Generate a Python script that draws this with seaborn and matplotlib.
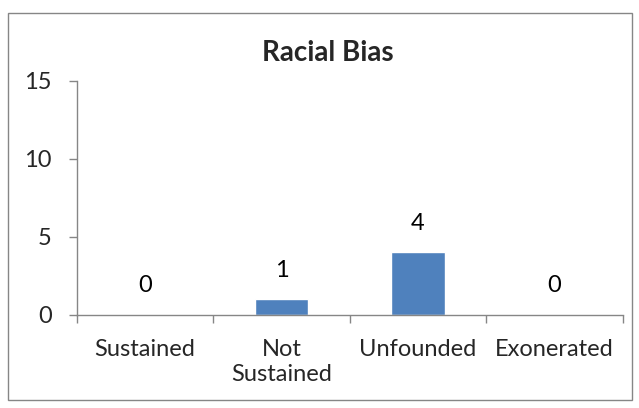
import matplotlib
matplotlib.use("Agg")
import matplotlib.pyplot as plt
import seaborn as sns
import pandas as pd
from matplotlib.patches import Rectangle

# Chart data
categories = ["Sustained", "Not\nSustained", "Unfounded", "Exonerated"]
counts = [0, 1, 4, 0]
y_ticks = [0, 5, 10, 15]

df = pd.DataFrame({"Finding": categories, "Count": counts})

sns.set_style("white")
plt.rcParams["font.family"] = ["Lato", "DejaVu Sans"]

fig = plt.figure(figsize=(6.39, 4.08), dpi=100)
ax = fig.add_axes([76.7 / 639, (408 - 314.5) / 408, (622.7 - 76.7) / 639, (314.5 - 80.5) / 408])

sns.barplot(data=df, x="Finding", y="Count", color="#4F81BD", width=0.39,
            saturation=1, ax=ax)

# value labels above bars
ax.bar_label(ax.containers[0], labels=[str(v) for v in counts],
             padding=13, fontsize=17, color="black")

ax.set_ylim(0, 15)
ax.set_xlim(-0.5, len(categories) - 0.5)
ax.set_yticks(y_ticks)
ax.set_xlabel("")
ax.set_ylabel("")

# title is centred over the whole chart frame
fig.text(328 / 639, 1 - 53 / 408, "Racial Bias", fontsize=20, fontweight="bold",
         ha="center", va="center")

# axis styling
for side in ["top", "right"]:
    ax.spines[side].set_visible(False)
for side in ["left", "bottom"]:
    ax.spines[side].set_color("#868686")
    ax.spines[side].set_linewidth(1)

ax.tick_params(axis="y", which="major", direction="out", length=6, width=1,
               color="#868686", left=True, labelsize=17, pad=12)
ax.tick_params(axis="x", which="major", length=0, labelsize=17, pad=18)
for lbl in ax.get_xticklabels():
    lbl.set_linespacing(1.2)
ax.set_xticks([i - 0.5 for i in range(len(categories) + 1)], minor=True)
ax.tick_params(axis="x", which="minor", direction="out", length=6, width=1,
               color="#868686", bottom=True)

# outer frame around the chart area
fig.patches.append(Rectangle((7.5 / 639, 1 - 400 / 408), (632 - 7.5) / 639, (400 - 12.7) / 408,
                             transform=fig.transFigure, fill=False,
                             edgecolor="#868686", linewidth=1))

fig.savefig("out.png", dpi=100)
